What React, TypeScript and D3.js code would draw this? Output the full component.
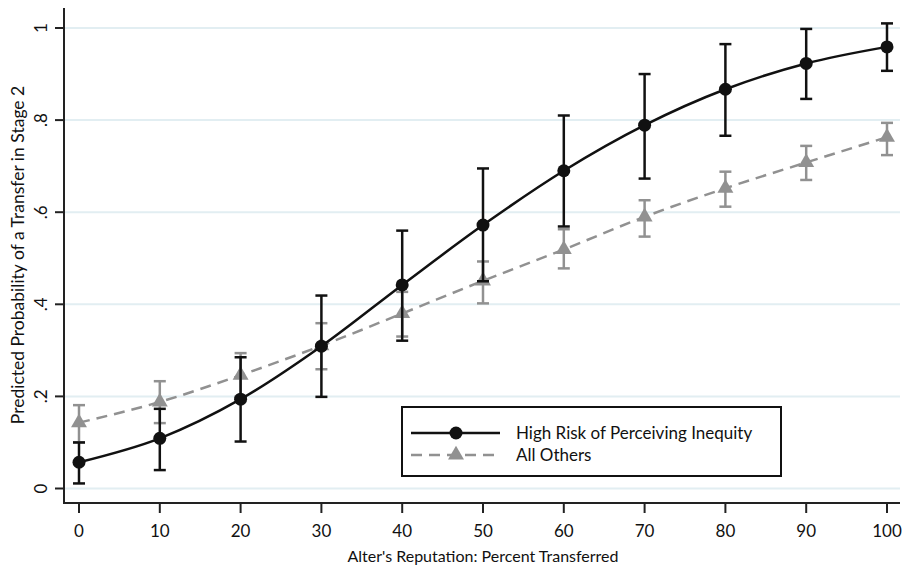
import React from "react";
import * as d3 from "d3";

const reputation = [0, 10, 20, 30, 40, 50, 60, 70, 80, 90, 100];

const highRisk = [0.057, 0.109, 0.194, 0.309, 0.442, 0.572, 0.69, 0.789, 0.867, 0.923, 0.959];
const highRiskLo = [0.011, 0.04, 0.102, 0.199, 0.321, 0.45, 0.569, 0.673, 0.766, 0.846, 0.907];
const highRiskHi = [0.1, 0.173, 0.285, 0.419, 0.56, 0.695, 0.81, 0.9, 0.965, 0.998, 1.01];

const others = [0.143, 0.188, 0.246, 0.31, 0.38, 0.451, 0.519, 0.59, 0.652, 0.708, 0.763];
const othersLo = [0.1, 0.142, 0.2, 0.259, 0.33, 0.402, 0.478, 0.547, 0.612, 0.67, 0.724];
const othersHi = [0.181, 0.233, 0.294, 0.359, 0.427, 0.493, 0.563, 0.626, 0.688, 0.744, 0.794];

const yTicks = [0, 0.2, 0.4, 0.6, 0.8, 1];
const yTickLabels = ["0", ".2", ".4", ".6", ".8", "1"];
const xTicks = [0, 10, 20, 30, 40, 50, 60, 70, 80, 90, 100];

const legendLabels = ["High Risk of Perceiving Inequity", "All Others"];

const width = 904;
const height = 569;
const FONT = "Lato, 'Open Sans', sans-serif";
const BLACK = "#111";
const GRAY = "#919191";

const x = d3.scaleLinear().domain([0, 100]).range([79, 887]);
const y = d3.scaleLinear().domain([0, 1]).range([488.5, 28]);

const axisLeft = 64;
const axisBottom = 503;

type Series = { vals: number[]; lo: number[]; hi: number[]; color: string; dash?: string; marker: "circle" | "triangle" };

const series: Series[] = [
  { vals: others, lo: othersLo, hi: othersHi, color: GRAY, dash: "11,7", marker: "triangle" },
  { vals: highRisk, lo: highRiskLo, hi: highRiskHi, color: BLACK, marker: "circle" },
];

const line = d3
  .line<[number, number]>()
  .x((d) => x(d[0]))
  .y((d) => y(d[1]))
  .curve(d3.curveMonotoneX);

const tri = d3.symbol().type(d3.symbolTriangle).size(110);

const Marker = ({ kind, cx, cy, color }: { kind: string; cx: number; cy: number; color: string }) =>
  kind === "circle" ? (
    <circle cx={cx} cy={cy} r={6.5} fill={color} />
  ) : (
    <path d={tri() || ""} transform={`translate(${cx},${cy})`} fill={color} />
  );

const App = () => {
  return (
    <div style={{ position: "absolute", left: 0, top: 0 }}>
      <svg width={width} height={height} style={{ display: "block", background: "#fff" }}>
        {/* gridlines */}
        {yTicks.map((t) => (
          <line key={t} x1={axisLeft} x2={900} y1={y(t)} y2={y(t)} stroke="#e2eef2" strokeWidth={2} />
        ))}

        {/* axes */}
        <line x1={axisLeft} x2={axisLeft} y1={8} y2={axisBottom} stroke="#222" strokeWidth={2} />
        <line x1={axisLeft - 1} x2={900} y1={axisBottom} y2={axisBottom} stroke="#222" strokeWidth={2} />
        {yTicks.map((t, i) => (
          <g key={t}>
            <line x1={55} x2={axisLeft} y1={y(t)} y2={y(t)} stroke="#222" strokeWidth={2} />
            <text
              transform={`translate(47,${y(t)}) rotate(-90)`}
              textAnchor="middle"
              fontFamily={FONT}
              fontSize={17}
              fill="#111"
            >
              {yTickLabels[i]}
            </text>
          </g>
        ))}
        {xTicks.map((t) => (
          <g key={t}>
            <line x1={x(t)} x2={x(t)} y1={axisBottom} y2={axisBottom + 10} stroke="#222" strokeWidth={2} />
            <text x={x(t)} y={537} textAnchor="middle" fontFamily={FONT} fontSize={17} fill="#111">
              {t}
            </text>
          </g>
        ))}
        <text x={(x(0) + x(100)) / 2} y={562} textAnchor="middle" fontFamily={FONT} fontSize={16} fill="#111">
          Alter's Reputation: Percent Transferred
        </text>
        <text
          transform={`translate(24,255) rotate(-90)`}
          textAnchor="middle"
          fontFamily={FONT}
          fontSize={17.5}
          fill="#111"
        >
          Predicted Probability of a Transfer in Stage 2
        </text>

        {/* series */}
        {series.map((s, si) => (
          <g key={si}>
            {reputation.map((r, i) => (
              <g key={r} stroke={s.color} strokeWidth={2.5}>
                <line x1={x(r)} x2={x(r)} y1={y(s.lo[i])} y2={y(s.hi[i])} />
                <line x1={x(r) - 6} x2={x(r) + 6} y1={y(s.lo[i])} y2={y(s.lo[i])} />
                <line x1={x(r) - 6} x2={x(r) + 6} y1={y(s.hi[i])} y2={y(s.hi[i])} />
              </g>
            ))}
            <path
              d={line(reputation.map((r, i) => [r, s.vals[i]] as [number, number])) || ""}
              fill="none"
              stroke={s.color}
              strokeWidth={2.5}
              strokeDasharray={s.dash}
            />
            {reputation.map((r, i) => (
              <Marker key={r} kind={s.marker} cx={x(r)} cy={y(s.vals[i])} color={s.color} />
            ))}
          </g>
        ))}

        {/* legend */}
        <g>
          <rect x={402} y={407} width={379} height={69} fill="#fff" stroke="#111" strokeWidth={2} />
          {[series[1], series[0]].map((s, i) => {
            const ly = 433 + i * 22;
            return (
              <g key={i}>
                <line x1={411} x2={500} y1={ly} y2={ly} stroke={s.color} strokeWidth={2.5} strokeDasharray={s.dash} />
                <Marker kind={s.marker} cx={456} cy={ly} color={s.color} />
                <text x={516} y={ly + 6} fontFamily={FONT} fontSize={17} fill="#111">
                  {legendLabels[i]}
                </text>
              </g>
            );
          })}
        </g>
      </svg>
    </div>
  );
};

export default App;
